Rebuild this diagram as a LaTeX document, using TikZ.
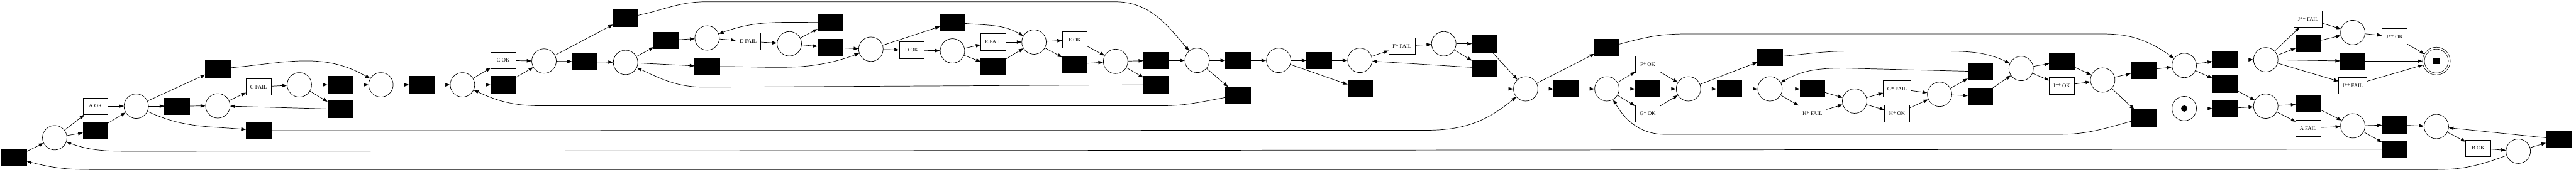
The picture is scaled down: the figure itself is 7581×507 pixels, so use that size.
\documentclass[tikz,border=0pt]{standalone}
\usepackage{fontspec}
\setmainfont{Liberation Serif}
\usetikzlibrary{arrows.meta}
\begin{document}
\begin{tikzpicture}[x=0.75pt,y=-0.75pt,line width=1pt]
\tikzstyle{every node}+=[inner sep=0pt,font=\fontsize{12}{14}\selectfont]
\tikzstyle{place}=[draw,circle,minimum size=54pt]
\tikzstyle{trans}=[draw,fill=black,minimum width=54.75pt,minimum height=36.75pt]
\tikzstyle{lbl}=[draw,fill=white,minimum width=54.75pt,minimum height=36.75pt,inner xsep=8.5pt]
\tikzstyle{flow}=[-{Triangle[length=10.5pt,width=7.5pt]}]
\useasboundingbox (0,0) rectangle (7581,507);
\node[trans] (t1) at (41,465) {};
\node[place] (p1) at (161,406) {};
\node[lbl] (aok) at (281,313) {A OK};
\node[trans] (t2) at (281,385) {};
\node[place] (p2) at (401,313) {};
\node[trans] (t3) at (521,313) {};
\node[place] (p3) at (641,312) {};
\node[trans] (t4) at (641,203) {};
\node[lbl] (cfail) at (761,256) {C FAIL};
\node[trans] (t5) at (761,385) {};
\node[place] (p4) at (881,250) {};
\node[trans] (t6) at (1001,250) {};
\node[trans] (t7) at (1001,322) {};
\node[place] (p5) at (1121,250) {};
\node[trans] (t8) at (1241,250) {};
\node[place] (p6) at (1361,250) {};
\node[lbl] (cok) at (1481,178) {C OK};
\node[trans] (t9) at (1481,250) {};
\node[place] (p7) at (1601,180) {};
\node[trans] (t11) at (1721,182) {};
\node[trans] (t10) at (1841,53) {};
\node[place] (p8) at (1841,184) {};
\node[trans] (t12) at (1961,119) {};
\node[place] (p9) at (2081,112) {};
\node[trans] (t15) at (2081,196) {};
\node[lbl] (dfail) at (2202,122) {D FAIL};
\node[place] (p10) at (2323,129) {};
\node[trans] (t13) at (2443,66) {};
\node[trans] (t14) at (2443,140) {};
\node[place] (p11) at (2563,145) {};
\node[lbl] (dok) at (2683,148) {D OK};
\node[trans] (t16) at (2803,66) {};
\node[place] (p12) at (2803,150) {};
\node[lbl] (efail) at (2923,124) {E FAIL};
\node[trans] (t17) at (2923,196) {};
\node[place] (p13) at (3043,124) {};
\node[lbl] (eok) at (3163,117) {E OK};
\node[trans] (t18) at (3163,189) {};
\node[place] (p14) at (3283,181) {};
\node[trans] (t19) at (3402,178) {};
\node[trans] (t20) at (3402,250) {};
\node[place] (p15) at (3523,178) {};
\node[trans] (t21) at (3643,178) {};
\node[trans] (t22) at (3643,281) {};
\node[place] (p16) at (3763,178) {};
\node[trans] (t23) at (3882,178) {};
\node[place] (p17) at (4002,178) {};
\node[trans] (t26) at (4003,262) {};
\node[lbl] (ffail) at (4126,136) {F* FAIL};
\node[place] (p18) at (4249,129) {};
\node[trans] (t24) at (4369,129) {};
\node[trans] (t25) at (4369,201) {};
\node[place] (p19) at (4490,262) {};
\node[trans] (t28) at (4609,262) {};
\node[trans] (t27) at (4729,140) {};
\node[place] (p20) at (4729,262) {};
\node[lbl] (fok) at (4849,190) {F* OK};
\node[trans] (t29) at (4849,262) {};
\node[lbl] (gok) at (4849,335) {G* OK};
\node[place] (p21) at (4969,262) {};
\node[trans] (t30) at (5089,262) {};
\node[trans] (t31) at (5209,169) {};
\node[place] (p22) at (5209,262) {};
\node[trans] (t32) at (5334,262) {};
\node[lbl] (hfail) at (5334,335) {H* FAIL};
\node[place] (p23) at (5458,298) {};
\node[lbl] (gfail) at (5583,262) {G* FAIL};
\node[lbl] (hok) at (5583,335) {H* OK};
\node[place] (p24) at (5708,278) {};
\node[trans] (t33) at (5828,211) {};
\node[trans] (t34) at (5828,284) {};
\node[place] (p25) at (5948,202) {};
\node[trans] (t35) at (6068,181) {};
\node[lbl] (iok) at (6068,253) {I** OK};
\node[place] (p26) at (6188,236) {};
\node[trans] (t36) at (6308,208) {};
\node[trans] (t37) at (6308,348) {};
\node[place] (p27) at (6428,193) {};
\node[place] (p30) at (6428,320) {};
\node[circle,fill=black,minimum size=14pt] (tok) at (p30) {};
\node[trans] (t38) at (6548,176) {};
\node[trans] (t39) at (6548,248) {};
\node[trans] (t42) at (6548,320) {};
\node[place] (p28) at (6668,176) {};
\node[place] (p31) at (6668,313) {};
\node[lbl] (jfail) at (6793,56) {J** FAIL};
\node[trans] (t40) at (6793,128) {};
\node[trans] (t43) at (6793,306) {};
\node[lbl] (afail) at (6793,378) {A FAIL};
\node[place] (p29) at (6924,96) {};
\node[trans] (t41) at (6924,180) {};
\node[lbl] (ifail) at (6924,252) {I** FAIL};
\node[place] (p32) at (6924,371) {};
\node[lbl] (jok) at (7047,108) {J** OK};
\node[trans] (t44) at (7047,368) {};
\node[trans] (t45) at (7047,440) {};
\node[place,double,double distance=3pt,minimum size=57pt,outer sep=2.25pt] (pend) at (7170,180) {};
\node[fill=black,minimum size=14pt] (endtok) at (pend) {};
\node[place] (p33) at (7170,373) {};
\node[lbl] (bok) at (7293,437) {B OK};
\node[place] (p34) at (7411,446) {};
\node[trans] (t46) at (7530,410) {};
\draw[flow] (t1) -- (p1);
\draw[flow] (p1) -- (aok);
\draw[flow] (p1) -- (t2);
\draw[flow] (aok) -- (p2);
\draw[flow] (t2) -- (p2);
\draw[flow] (p2) -- (t4);
\draw[flow] (p2) -- (t3);
\draw[flow] (p2) to[out=-25,in=175] (t5);
\draw[flow] (t3) -- (p3);
\draw[flow] (p3) -- (cfail);
\draw[flow] (cfail) -- (p4);
\draw[flow] (p4) -- (t6);
\draw[flow] (p4) -- (t7);
\draw[flow] (t6) -- (p5);
\draw[flow] (t7) -- (p3);
\draw[flow] (t4) to[out=5,in=150] (p5);
\draw[flow] (p5) -- (t8);
\draw[flow] (t8) -- (p6);
\draw[flow] (p6) -- (cok);
\draw[flow] (p6) -- (t9);
\draw[flow] (cok) -- (p7);
\draw[flow] (t9) -- (p7);
\draw[flow] (p7) -- (t10);
\draw[flow] (p7) -- (t11);
\draw[flow] (t11) -- (p8);
\draw[flow] (t10) to[out=12,in=180] (2080,5) -- (3280,5) to[out=0,in=130] (p15);
\draw[flow] (p8) -- (t12);
\draw[flow] (p8) -- (t15);
\draw[flow] (t12) -- (p9);
\draw[flow] (p9) -- (dfail);
\draw[flow] (dfail) -- (p10);
\draw[flow] (p10) -- (t13);
\draw[flow] (p10) -- (t14);
\draw[flow] (t13) to[out=180,in=20] (p9);
\draw[flow] (t14) -- (p11);
\draw[flow] (t15) to[out=0,in=200] (p11);
\draw[flow] (p11) -- (t16);
\draw[flow] (p11) -- (dok);
\draw[flow] (dok) -- (p12);
\draw[flow] (p12) -- (efail);
\draw[flow] (p12) -- (t17);
\draw[flow] (efail) -- (p13);
\draw[flow] (t17) -- (p13);
\draw[flow] (t16) to[out=-5,in=150] (p13);
\draw[flow] (p13) -- (eok);
\draw[flow] (p13) -- (t18);
\draw[flow] (eok) -- (p14);
\draw[flow] (t18) -- (p14);
\draw[flow] (p14) -- (t19);
\draw[flow] (p14) -- (t20);
\draw[flow] (t19) -- (p15);
\draw[flow] (t20) -- (2075,257) to[out=180,in=-25] (p8);
\draw[flow] (p15) -- (t21);
\draw[flow] (p15) -- (t22);
\draw[flow] (t21) -- (p16);
\draw[flow] (t22) to[out=190,in=0] (3415,312) -- (1595,312) to[out=180,in=-25] (p6);
\draw[flow] (p16) -- (t23);
\draw[flow] (p16) -- (t26);
\draw[flow] (t23) -- (p17);
\draw[flow] (p17) -- (ffail);
\draw[flow] (ffail) -- (p18);
\draw[flow] (p18) -- (t24);
\draw[flow] (p18) -- (t25);
\draw[flow] (t25) -- (p17);
\draw[flow] (t24) -- (p19);
\draw[flow] (t26) -- (p19);
\draw[flow] (t5) -- (4200,384) to[out=0,in=-140] (p19);
\draw[flow] (p19) -- (t27);
\draw[flow] (p19) -- (t28);
\draw[flow] (t28) -- (p20);
\draw[flow] (p20) -- (fok);
\draw[flow] (p20) -- (t29);
\draw[flow] (p20) -- (gok);
\draw[flow] (fok) -- (p21);
\draw[flow] (t29) -- (p21);
\draw[flow] (gok) -- (p21);
\draw[flow] (p21) -- (t30);
\draw[flow] (p21) -- (t31);
\draw[flow] (t27) to[out=15,in=180] (4960,100) -- (6190,100) to[out=0,in=145] (p27);
\draw[flow] (t30) -- (p22);
\draw[flow] (p22) -- (t32);
\draw[flow] (p22) -- (hfail);
\draw[flow] (t32) -- (p23);
\draw[flow] (hfail) -- (p23);
\draw[flow] (p23) -- (gfail);
\draw[flow] (p23) -- (hok);
\draw[flow] (gfail) -- (p24);
\draw[flow] (hok) -- (p24);
\draw[flow] (p24) -- (t33);
\draw[flow] (p24) -- (t34);
\draw[flow] (t33) -- (5430,201) to[out=180,in=30] (p22);
\draw[flow] (t34) -- (p25);
\draw[flow] (t31) to[out=5,in=180] (5440,151) -- (5720,151) to[out=0,in=155] (p25);
\draw[flow] (p25) -- (t35);
\draw[flow] (p25) -- (iok);
\draw[flow] (t35) -- (p26);
\draw[flow] (iok) -- (p26);
\draw[flow] (p26) -- (t36);
\draw[flow] (p26) -- (t37);
\draw[flow] (t37) to[out=195,in=0] (6060,396) -- (4900,396) to[out=180,in=-60] (p20);
\draw[flow] (t36) -- (p27);
\draw[flow] (p27) -- (t38);
\draw[flow] (p27) -- (t39);
\draw[flow] (t38) -- (p28);
\draw[flow] (p28) -- (jfail);
\draw[flow] (p28) -- (t40);
\draw[flow] (p28) -- (t41);
\draw[flow] (p28) -- (ifail);
\draw[flow] (jfail) -- (p29);
\draw[flow] (t40) -- (p29);
\draw[flow] (p29) -- (jok);
\draw[flow] (jok) -- (pend);
\draw[flow] (t41) -- (pend);
\draw[flow] (ifail) -- (pend);
\draw[flow] (p30) -- (t42);
\draw[flow] (t39) -- (p31);
\draw[flow] (t42) -- (p31);
\draw[flow] (p31) -- (t43);
\draw[flow] (p31) -- (afail);
\draw[flow] (t43) -- (p32);
\draw[flow] (afail) -- (p32);
\draw[flow] (p32) -- (t44);
\draw[flow] (p32) -- (t45);
\draw[flow] (t44) -- (p33);
\draw[flow] (p33) -- (bok);
\draw[flow] (bok) -- (p34);
\draw[flow] (p34) -- (t46);
\draw[flow] (t46) -- (p33);
\draw[flow] (t45) -- (400,446) to[out=180,in=-20] (p1);
\draw[flow] (p34) to[out=200,in=0] (7170,500) -- (270,500) to[out=180,in=-15] (t1);
\end{tikzpicture}
\end{document}
